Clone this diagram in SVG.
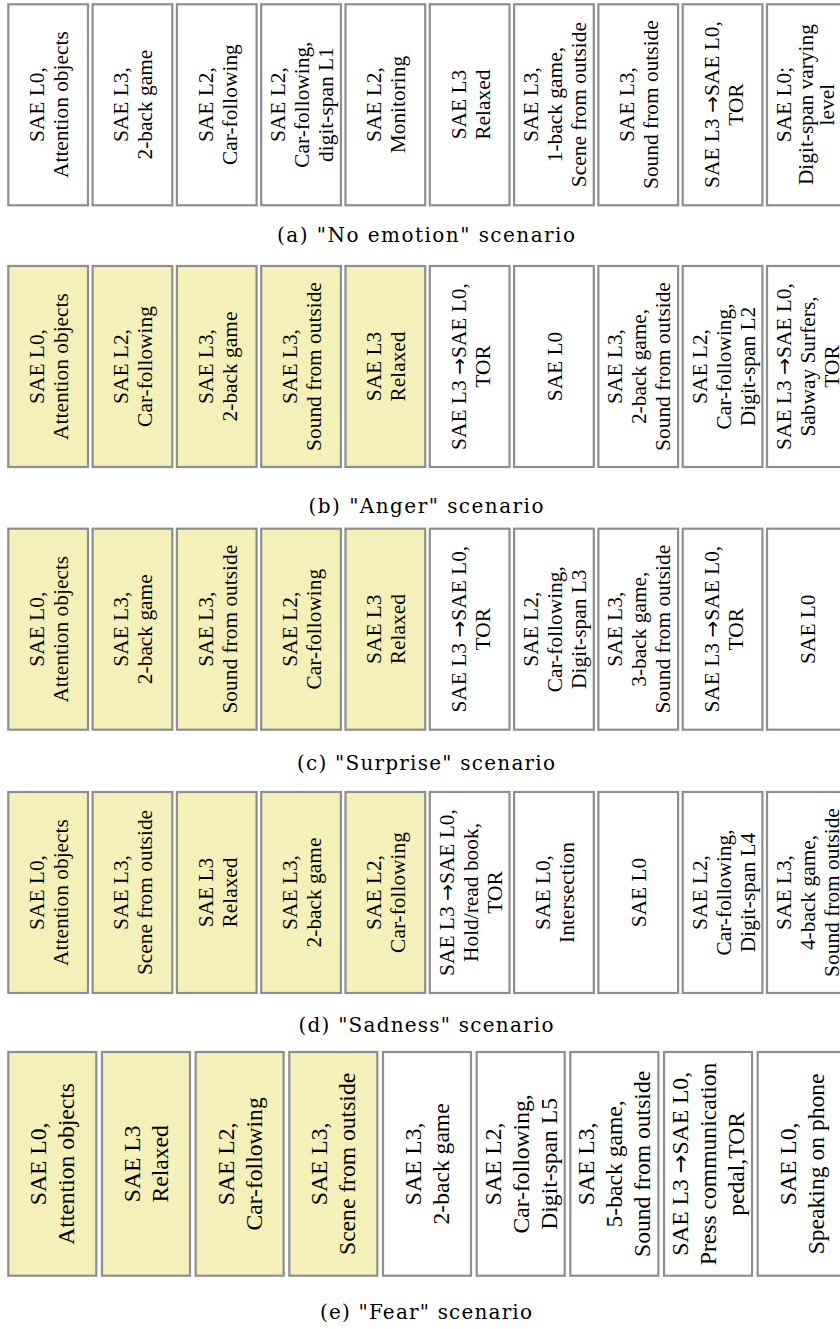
<svg xmlns="http://www.w3.org/2000/svg" width="840" height="1329" viewBox="0 0 840 1329">
<style>
.b rect{fill:#fff;stroke:#8e8e8e;stroke-width:2.2}
.h rect{fill:#f5f0b9}
.t{font-family:"Liberation Serif","Times New Roman",serif;font-size:21.4px;fill:#000;text-anchor:middle}
.te{font-size:23.6px}
.ar{font-family:"DejaVu Sans","Liberation Sans",sans-serif;font-size:0.95em}
.cap{font-family:"DejaVu Serif","Liberation Serif",serif;font-size:20px;fill:#000;text-anchor:middle}
</style>
<rect width="840" height="1329" fill="#fff"/>
<g id="connectors"/>
<!-- Row a -->
<g id="a1" class="b"><rect x="8.3" y="4.3" width="79.7" height="201"/><text class="t" transform="translate(48.15 104.6) rotate(-90)"><tspan x="0" y="-4">SAE L0,</tspan><tspan x="0" y="20">Attention objects</tspan></text></g>
<g id="a2" class="b"><rect x="92.6" y="4.3" width="79.7" height="201"/><text class="t" transform="translate(132.45 104.6) rotate(-90)"><tspan x="0" y="-4">SAE L3,</tspan><tspan x="0" y="20">2-back game</tspan></text></g>
<g id="a3" class="b"><rect x="176.9" y="4.3" width="79.7" height="201"/><text class="t" transform="translate(216.75 104.6) rotate(-90)"><tspan x="0" y="-4">SAE L2,</tspan><tspan x="0" y="20">Car-following</tspan></text></g>
<g id="a4" class="b"><rect x="261.2" y="4.3" width="79.7" height="201"/><text class="t" transform="translate(301.05 104.6) rotate(-90)"><tspan x="0" y="-16">SAE L2,</tspan><tspan x="0" y="8">Car-following,</tspan><tspan x="0" y="32">digit-span L1</tspan></text></g>
<g id="a5" class="b"><rect x="345.5" y="4.3" width="79.7" height="201"/><text class="t" transform="translate(385.35 104.6) rotate(-90)"><tspan x="0" y="-4">SAE L2,</tspan><tspan x="0" y="20">Monitoring</tspan></text></g>
<g id="a6" class="b"><rect x="429.8" y="4.3" width="79.7" height="201"/><text class="t" transform="translate(469.65 104.6) rotate(-90)"><tspan x="0" y="-4">SAE L3</tspan><tspan x="0" y="20">Relaxed</tspan></text></g>
<g id="a7" class="b"><rect x="514.1" y="4.3" width="79.7" height="201"/><text class="t" transform="translate(553.95 104.6) rotate(-90)"><tspan x="0" y="-16">SAE L3,</tspan><tspan x="0" y="8">1-back game,</tspan><tspan x="0" y="32">Scene from outside</tspan></text></g>
<g id="a8" class="b"><rect x="598.4" y="4.3" width="79.7" height="201"/><text class="t" transform="translate(638.25 104.6) rotate(-90)"><tspan x="0" y="-4">SAE L3,</tspan><tspan x="0" y="20">Sound from outside</tspan></text></g>
<g id="a9" class="b"><rect x="682.7" y="4.3" width="79.7" height="201"/><text class="t" transform="translate(722.55 104.6) rotate(-90)"><tspan x="0" y="-4">SAE L3 <tspan class="ar">→</tspan>SAE L0,</tspan><tspan x="0" y="20">TOR</tspan></text></g>
<g id="a10" class="b"><rect x="767" y="4.3" width="79.7" height="201"/><text class="t" transform="translate(806.85 104.6) rotate(-90)"><tspan x="0" y="-16">SAE L0;</tspan><tspan x="0" y="6">Digit-span varying</tspan><tspan x="0" y="27">level</tspan></text></g>
<text id="cap-a" class="cap" x="426" y="242" textLength="298" lengthAdjust="spacing">(a) "No emotion" scenario</text>
<!-- Row b -->
<g id="b1" class="b h"><rect x="8.3" y="266" width="79.7" height="201"/><text class="t" transform="translate(48.15 366.5) rotate(-90)"><tspan x="0" y="-4">SAE L0,</tspan><tspan x="0" y="20">Attention objects</tspan></text></g>
<g id="b2" class="b h"><rect x="92.6" y="266" width="79.7" height="201"/><text class="t" transform="translate(132.45 366.5) rotate(-90)"><tspan x="0" y="-4">SAE L2,</tspan><tspan x="0" y="20">Car-following</tspan></text></g>
<g id="b3" class="b h"><rect x="176.9" y="266" width="79.7" height="201"/><text class="t" transform="translate(216.75 366.5) rotate(-90)"><tspan x="0" y="-4">SAE L3,</tspan><tspan x="0" y="20">2-back game</tspan></text></g>
<g id="b4" class="b h"><rect x="261.2" y="266" width="79.7" height="201"/><text class="t" transform="translate(301.05 366.5) rotate(-90)"><tspan x="0" y="-4">SAE L3,</tspan><tspan x="0" y="20">Sound from outside</tspan></text></g>
<g id="b5" class="b h"><rect x="345.5" y="266" width="79.7" height="201"/><text class="t" transform="translate(385.35 366.5) rotate(-90)"><tspan x="0" y="-4">SAE L3</tspan><tspan x="0" y="20">Relaxed</tspan></text></g>
<g id="b6" class="b"><rect x="429.8" y="266" width="79.7" height="201"/><text class="t" transform="translate(469.65 366.5) rotate(-90)"><tspan x="0" y="-4">SAE L3 <tspan class="ar">→</tspan>SAE L0,</tspan><tspan x="0" y="20">TOR</tspan></text></g>
<g id="b7" class="b"><rect x="514.1" y="266" width="79.7" height="201"/><text class="t" transform="translate(553.95 366.5) rotate(-90)"><tspan x="0" y="8">SAE L0</tspan></text></g>
<g id="b8" class="b"><rect x="598.4" y="266" width="79.7" height="201"/><text class="t" transform="translate(638.25 366.5) rotate(-90)"><tspan x="0" y="-16">SAE L3,</tspan><tspan x="0" y="8">2-back game,</tspan><tspan x="0" y="32">Sound from outside</tspan></text></g>
<g id="b9" class="b"><rect x="682.7" y="266" width="79.7" height="201"/><text class="t" transform="translate(722.55 366.5) rotate(-90)"><tspan x="0" y="-16">SAE L2,</tspan><tspan x="0" y="8">Car-following,</tspan><tspan x="0" y="32">Digit-span L2</tspan></text></g>
<g id="b10" class="b"><rect x="767" y="266" width="79.7" height="201"/><text class="t" transform="translate(806.85 366.5) rotate(-90)"><tspan x="0" y="-16">SAE L3 <tspan class="ar">→</tspan>SAE L0,</tspan><tspan x="0" y="8">Sabway Surfers,</tspan><tspan x="0" y="32">TOR</tspan></text></g>
<text id="cap-b" class="cap" x="426" y="513" textLength="235" lengthAdjust="spacing">(b) "Anger" scenario</text>
<!-- Row c -->
<g id="c1" class="b h"><rect x="8.3" y="528.7" width="79.7" height="201"/><text class="t" transform="translate(48.15 629.2) rotate(-90)"><tspan x="0" y="-4">SAE L0,</tspan><tspan x="0" y="20">Attention objects</tspan></text></g>
<g id="c2" class="b h"><rect x="92.6" y="528.7" width="79.7" height="201"/><text class="t" transform="translate(132.45 629.2) rotate(-90)"><tspan x="0" y="-4">SAE L3,</tspan><tspan x="0" y="20">2-back game</tspan></text></g>
<g id="c3" class="b h"><rect x="176.9" y="528.7" width="79.7" height="201"/><text class="t" transform="translate(216.75 629.2) rotate(-90)"><tspan x="0" y="-4">SAE L3,</tspan><tspan x="0" y="20">Sound from outside</tspan></text></g>
<g id="c4" class="b h"><rect x="261.2" y="528.7" width="79.7" height="201"/><text class="t" transform="translate(301.05 629.2) rotate(-90)"><tspan x="0" y="-4">SAE L2,</tspan><tspan x="0" y="20">Car-following</tspan></text></g>
<g id="c5" class="b h"><rect x="345.5" y="528.7" width="79.7" height="201"/><text class="t" transform="translate(385.35 629.2) rotate(-90)"><tspan x="0" y="-4">SAE L3</tspan><tspan x="0" y="20">Relaxed</tspan></text></g>
<g id="c6" class="b"><rect x="429.8" y="528.7" width="79.7" height="201"/><text class="t" transform="translate(469.65 629.2) rotate(-90)"><tspan x="0" y="-4">SAE L3 <tspan class="ar">→</tspan>SAE L0,</tspan><tspan x="0" y="20">TOR</tspan></text></g>
<g id="c7" class="b"><rect x="514.1" y="528.7" width="79.7" height="201"/><text class="t" transform="translate(553.95 629.2) rotate(-90)"><tspan x="0" y="-16">SAE L2,</tspan><tspan x="0" y="8">Car-following,</tspan><tspan x="0" y="32">Digit-span L3</tspan></text></g>
<g id="c8" class="b"><rect x="598.4" y="528.7" width="79.7" height="201"/><text class="t" transform="translate(638.25 629.2) rotate(-90)"><tspan x="0" y="-16">SAE L3,</tspan><tspan x="0" y="8">3-back game,</tspan><tspan x="0" y="32">Sound from outside</tspan></text></g>
<g id="c9" class="b"><rect x="682.7" y="528.7" width="79.7" height="201"/><text class="t" transform="translate(722.55 629.2) rotate(-90)"><tspan x="0" y="-4">SAE L3 <tspan class="ar">→</tspan>SAE L0,</tspan><tspan x="0" y="20">TOR</tspan></text></g>
<g id="c10" class="b"><rect x="767" y="528.7" width="79.7" height="201"/><text class="t" transform="translate(806.85 629.2) rotate(-90)"><tspan x="0" y="8">SAE L0</tspan></text></g>
<text id="cap-c" class="cap" x="426" y="770" textLength="258" lengthAdjust="spacing">(c) "Surprise" scenario</text>
<!-- Row d -->
<g id="d1" class="b h"><rect x="8.3" y="792" width="79.7" height="201"/><text class="t" transform="translate(48.15 892.5) rotate(-90)"><tspan x="0" y="-4">SAE L0,</tspan><tspan x="0" y="20">Attention objects</tspan></text></g>
<g id="d2" class="b h"><rect x="92.6" y="792" width="79.7" height="201"/><text class="t" transform="translate(132.45 892.5) rotate(-90)"><tspan x="0" y="-4">SAE L3,</tspan><tspan x="0" y="20">Scene from outside</tspan></text></g>
<g id="d3" class="b h"><rect x="176.9" y="792" width="79.7" height="201"/><text class="t" transform="translate(216.75 892.5) rotate(-90)"><tspan x="0" y="-4">SAE L3</tspan><tspan x="0" y="20">Relaxed</tspan></text></g>
<g id="d4" class="b h"><rect x="261.2" y="792" width="79.7" height="201"/><text class="t" transform="translate(301.05 892.5) rotate(-90)"><tspan x="0" y="-4">SAE L3,</tspan><tspan x="0" y="20">2-back game</tspan></text></g>
<g id="d5" class="b h"><rect x="345.5" y="792" width="79.7" height="201"/><text class="t" transform="translate(385.35 892.5) rotate(-90)"><tspan x="0" y="-4">SAE L2,</tspan><tspan x="0" y="20">Car-following</tspan></text></g>
<g id="d6" class="b"><rect x="429.8" y="792" width="79.7" height="201"/><text class="t" transform="translate(469.65 892.5) rotate(-90)"><tspan x="0" y="-16">SAE L3 <tspan class="ar">→</tspan>SAE L0,</tspan><tspan x="0" y="8">Hold/read book,</tspan><tspan x="0" y="32">TOR</tspan></text></g>
<g id="d7" class="b"><rect x="514.1" y="792" width="79.7" height="201"/><text class="t" transform="translate(553.95 892.5) rotate(-90)"><tspan x="0" y="-4">SAE L0,</tspan><tspan x="0" y="20">Intersection</tspan></text></g>
<g id="d8" class="b"><rect x="598.4" y="792" width="79.7" height="201"/><text class="t" transform="translate(638.25 892.5) rotate(-90)"><tspan x="0" y="8">SAE L0</tspan></text></g>
<g id="d9" class="b"><rect x="682.7" y="792" width="79.7" height="201"/><text class="t" transform="translate(722.55 892.5) rotate(-90)"><tspan x="0" y="-16">SAE L2,</tspan><tspan x="0" y="8">Car-following,</tspan><tspan x="0" y="32">Digit-span L4</tspan></text></g>
<g id="d10" class="b"><rect x="767" y="792" width="79.7" height="201"/><text class="t" transform="translate(806.85 892.5) rotate(-90)"><tspan x="0" y="-16">SAE L3,</tspan><tspan x="0" y="8">4-back game,</tspan><tspan x="0" y="32">Sound from outside</tspan></text></g>
<text id="cap-d" class="cap" x="426" y="1032" textLength="255" lengthAdjust="spacing">(d) "Sadness" scenario</text>
<!-- Row e -->
<g id="e1" class="b h"><rect x="8.3" y="1052" width="88" height="223.7"/><text class="t te" transform="translate(52.3 1163.9) rotate(-90)"><tspan x="0" y="-6">SAE L0,</tspan><tspan x="0" y="22">Attention objects</tspan></text></g>
<g id="e2" class="b h"><rect x="101.98" y="1052" width="88" height="223.7"/><text class="t te" transform="translate(145.98 1163.9) rotate(-90)"><tspan x="0" y="-6">SAE L3</tspan><tspan x="0" y="22">Relaxed</tspan></text></g>
<g id="e3" class="b h"><rect x="195.65" y="1052" width="88" height="223.7"/><text class="t te" transform="translate(239.65 1163.9) rotate(-90)"><tspan x="0" y="-6">SAE L2,</tspan><tspan x="0" y="22">Car-following</tspan></text></g>
<g id="e4" class="b h"><rect x="289.33" y="1052" width="88" height="223.7"/><text class="t te" transform="translate(333.33 1163.9) rotate(-90)"><tspan x="0" y="-6">SAE L3,</tspan><tspan x="0" y="22">Scene from outside</tspan></text></g>
<g id="e5" class="b"><rect x="383" y="1052" width="88" height="223.7"/><text class="t te" transform="translate(427 1163.9) rotate(-90)"><tspan x="0" y="-6">SAE L3,</tspan><tspan x="0" y="22">2-back game</tspan></text></g>
<g id="e6" class="b"><rect x="476.68" y="1052" width="88" height="223.7"/><text class="t te" transform="translate(520.68 1163.9) rotate(-90)"><tspan x="0" y="-20">SAE L2,</tspan><tspan x="0" y="8">Car-following,</tspan><tspan x="0" y="36">Digit-span L5</tspan></text></g>
<g id="e7" class="b"><rect x="570.35" y="1052" width="88" height="223.7"/><text class="t te" transform="translate(614.35 1163.9) rotate(-90)"><tspan x="0" y="-20">SAE L3,</tspan><tspan x="0" y="8">5-back game,</tspan><tspan x="0" y="36">Sound from outside</tspan></text></g>
<g id="e8" class="b"><rect x="664.03" y="1052" width="88" height="223.7"/><text class="t te" transform="translate(708.03 1163.9) rotate(-90)"><tspan x="0" y="-20">SAE L3 <tspan class="ar">→</tspan>SAE L0,</tspan><tspan x="0" y="8">Press communication</tspan><tspan x="0" y="36">pedal,TOR</tspan></text></g>
<g id="e9" class="b"><rect x="757.7" y="1052" width="88" height="223.7"/><text class="t te" transform="translate(801.7 1163.9) rotate(-90)"><tspan x="0" y="-6">SAE L0,</tspan><tspan x="0" y="22">Speaking on phone</tspan></text></g>
<text id="cap-e" class="cap" x="426" y="1319" textLength="212" lengthAdjust="spacing">(e) "Fear" scenario</text>
</svg>
